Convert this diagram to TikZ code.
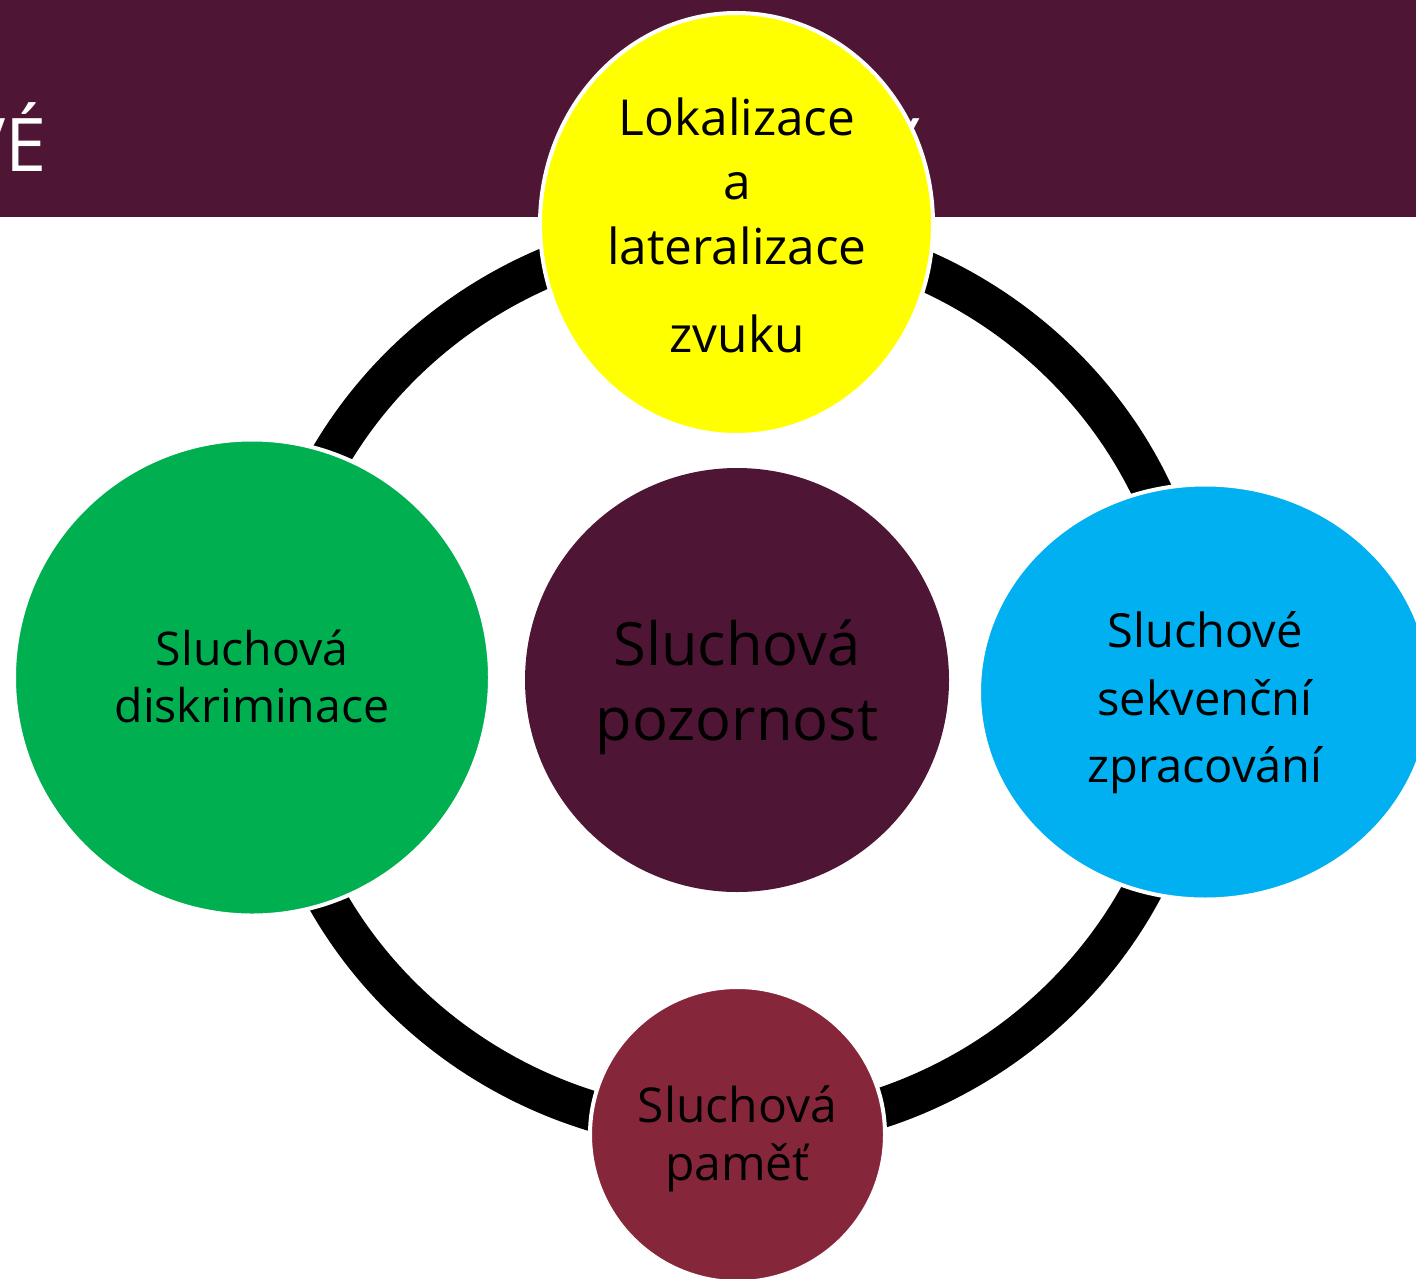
\documentclass[tikz,border=0pt]{standalone}
\usepackage{fontspec}
\setmainfont{Open Sans}
\usetikzlibrary{shapes.geometric}
\definecolor{bandpurple}{HTML}{4E1634}
\definecolor{cgreen}{HTML}{00B050}
\definecolor{cblue}{HTML}{00B0F0}
\definecolor{cyellow}{HTML}{FFFF00}
\definecolor{cred}{HTML}{86263A}
\tikzset{
  bubble/.style={circle, draw=white, line width=2pt, inner sep=0pt, outer sep=0pt},
  oval/.style={ellipse, draw=white, line width=2pt, inner sep=0pt, outer sep=0pt},
  lbl/.style={anchor=base, inner sep=0pt, outer sep=0pt, text=black},
}
\newcommand{\fs}[1]{\fontsize{#1}{#1}\selectfont}
\begin{document}
\begin{tikzpicture}[x=0.5pt,y=-0.5pt]
\useasboundingbox (0,0) rectangle (1416,1278);
\clip (0,0) rectangle (1416,1278);
\fill[white] (0,0) rectangle (1416,1278);
% title band
\fill[bandpurple] (0,0) rectangle (1416,217);
\node[anchor=base east, inner sep=0pt, text=white] (t1) at (47,172) {\fs{37}VÉ};
\node[anchor=base west, inner sep=0pt, text=white] (t2) at (878,172) {\fs{37}Y};
% ring
\coordinate (rc) at (732,681);
\draw[black, line width=20pt] (rc) ellipse [x radius=231.5pt, y radius=225.5pt];
% circles
\node[oval, fill=cyellow, minimum width=196.5pt, minimum height=211pt] (top) at (736.5,224) {};
\node[bubble, fill=cgreen, minimum size=238pt] (left) at (252,677.5) {};
\node[oval, fill=cblue, minimum width=226pt, minimum height=207.5pt] (right) at (1205,692) {};
\node[bubble, fill=cred, minimum size=147.5pt] (bottom) at (737.5,1134.5) {};
\node[circle, fill=bandpurple, inner sep=0pt, minimum size=212pt] (mid) at (737,680) {};
% texts
\node[lbl] (y1) at (737,136) {\fs{24.8}Lokalizace};
\node[lbl] (y2) at (737,200) {\fs{24.8}a};
\node[lbl] (y3) at (737,264) {\fs{24.8}lateralizace};
\node[lbl] (y4) at (737,352) {\fs{24.8}zvuku};
\node[lbl] (g1) at (252,665) {\fs{23.2}Sluchová};
\node[lbl] (g2) at (252,722) {\fs{23.2}diskriminace};
\node[lbl] (m1) at (737,665) {\fs{29.8}Sluchová};
\node[lbl] (m2) at (737,740) {\fs{29.8}pozornost};
\node[lbl] (b1) at (1205,647) {\fs{23.5}Sluchové};
\node[lbl] (b2) at (1205,715) {\fs{23.5}sekvenční};
\node[lbl] (b3) at (1205,782) {\fs{23.5}zpracování};
\node[lbl] (r1) at (737.5,1122) {\fs{24}Sluchová};
\node[lbl] (r2) at (737.5,1180) {\fs{24}paměť};
\end{tikzpicture}
\end{document}
